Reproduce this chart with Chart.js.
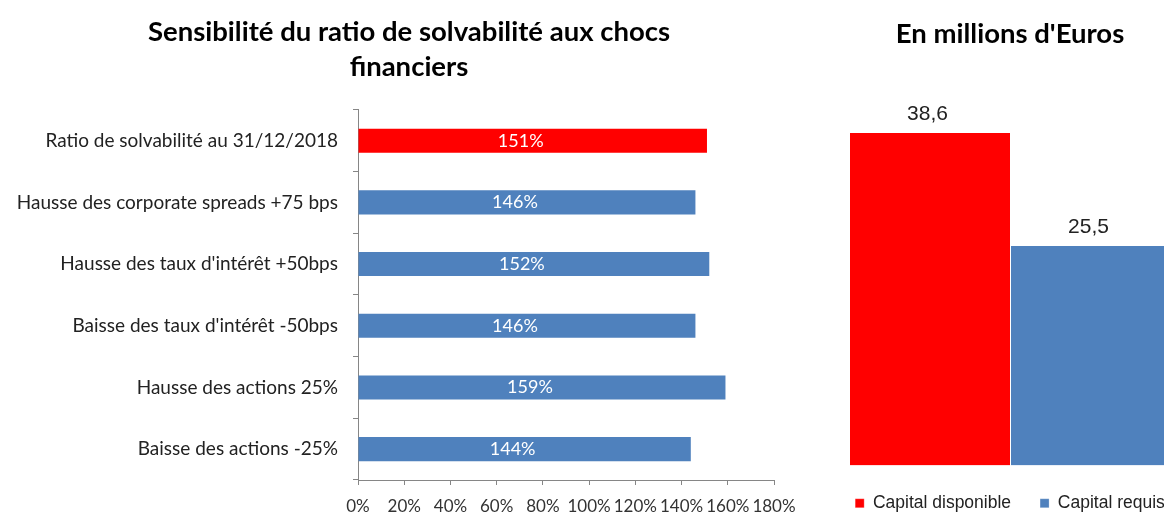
<!DOCTYPE html>
<html>
<head>
<meta charset="utf-8">
<script src="https://cdn.jsdelivr.net/npm/chart.js@4"></script>
<style>
  html, body { margin: 0; padding: 0; background: #fff; overflow: hidden; }
  body { width: 1164px; height: 514px; position: relative; }
  #leftBox { position: absolute; left: 0; top: 0; width: 818px; height: 514px; }
  #rightBox { position: absolute; left: 800px; top: 0; width: 430px; height: 522px; }
</style>
</head>
<body>
<div id="leftBox"><canvas id="ratioChart"></canvas></div>
<div id="rightBox"><canvas id="capitalChart"></canvas></div>
<script>
// données du graphique de gauche
const scenarios = [
    "Ratio de solvabilité au 31/12/2018",
    "Hausse des corporate spreads +75 bps",
    "Hausse des taux d'intérêt +50bps",
    "Baisse des taux d'intérêt -50bps",
    "Hausse des actions 25%",
    "Baisse des actions -25%"
];
const ratios = [151, 146, 152, 146, 159, 144];
const ratioColors = ["#FF0000", "#4F81BD", "#4F81BD", "#4F81BD", "#4F81BD", "#4F81BD"];

// données du graphique de droite
const capitalLabels = ["Capital disponible", "Capital requis"];
const capitalValues = [38.6, 25.5];
const capitalColors = ["#FF0000", "#4F81BD"];

const FONT = "Lato, 'Open Sans', sans-serif";
const ARIAL = 'Arial, "Liberation Sans", sans-serif';

// labels dans les barres (gauche)
const insideLabels = {
    id: 'insideLabels',
    afterDatasetsDraw(chart) {
        const ctx = chart.ctx;
        const meta = chart.getDatasetMeta(0);
        ctx.save();
        ctx.fillStyle = '#fff';
        ctx.font = '18px ' + FONT;
        ctx.textAlign = 'center';
        ctx.textBaseline = 'middle';
        meta.data.forEach((bar, i) => {
            const x = (bar.base + bar.x) / 2 - 12;
            ctx.fillText(ratios[i] + '%', x, bar.y);
        });
        ctx.restore();
    }
};

// valeurs au-dessus des barres (droite)
const topLabels = {
    id: 'topLabels',
    afterDatasetsDraw(chart) {
        const ctx = chart.ctx;
        ctx.save();
        ctx.fillStyle = '#222';
        ctx.font = '21px ' + ARIAL;
        ctx.textAlign = 'center';
        ctx.textBaseline = 'alphabetic';
        chart.data.datasets.forEach((ds, di) => {
            const bar = chart.getDatasetMeta(di).data[0];
            ctx.fillText(ds.data[0].toFixed(1).replace('.', ','), bar.x - 2, bar.y - 13);
        });
        ctx.restore();
    }
};

new Chart(document.getElementById('ratioChart'), {
    type: 'bar',
    data: {
        labels: scenarios,
        datasets: [{
            data: ratios,
            backgroundColor: ratioColors,
            borderWidth: 0,
            categoryPercentage: 1,
            barPercentage: 0.39
        }]
    },
    options: {
        indexAxis: 'y',
        responsive: true,
        maintainAspectRatio: false,
        animation: false,
        plugins: {
            legend: { display: false },
            tooltip: { enabled: false },
            title: {
                display: true,
                text: ['Sensibilité du ratio de solvabilité aux chocs', 'financiers'],
                color: '#000',
                font: { family: FONT, size: 27.5, weight: 'bold', lineHeight: 1.27 },
                padding: { top: 15, bottom: 25 }
            }
        },
        scales: {
            x: {
                min: 0,
                max: 180,
                afterFit: s => { s.height = 34; s.paddingRight = 44; },
                ticks: {
                    stepSize: 20,
                    color: '#333',
                    font: { family: FONT, size: 17 },
                    padding: 11,
                    maxRotation: 0,
                    autoSkip: false,
                    callback: v => v + '%'
                },
                grid: { drawOnChartArea: false, drawTicks: true, tickLength: 5, color: '#868686' },
                border: { color: '#868686' }
            },
            y: {
                afterFit: s => { s.width = 358; },
                ticks: {
                    color: '#222',
                    font: { family: FONT, size: 19 },
                    padding: 15
                },
                grid: { drawOnChartArea: false, drawTicks: true, tickLength: 5, color: '#868686' },
                border: { color: '#868686' }
            }
        }
    },
    plugins: [insideLabels]
});

new Chart(document.getElementById('capitalChart'), {
    type: 'bar',
    data: {
        labels: [''],
        datasets: capitalLabels.map((lab, i) => ({
            label: lab,
            data: [capitalValues[i]],
            backgroundColor: capitalColors[i],
            borderColor: '#fff',
            borderWidth: { left: 1 },
            categoryPercentage: 322 / 420,
            barPercentage: 1
        }))
    },
    options: {
        responsive: true,
        maintainAspectRatio: false,
        animation: false,
        layout: { padding: { left: 0, right: 10, bottom: 0 } },
        plugins: {
            tooltip: { enabled: false },
            title: {
                display: true,
                text: "En millions d'Euros",
                color: '#000',
                font: { family: FONT, size: 27.5, weight: 'bold' },
                padding: { top: 18, bottom: 27 }
            },
            legend: {
                position: 'bottom',
                labels: {
                    color: '#222',
                    font: { family: ARIAL, size: 17.5 },
                    boxWidth: 9,
                    boxHeight: 9,
                    padding: 29
                }
            }
        },
        scales: {
            x: { display: false },
            y: { display: false, min: 0, max: 45 }
        }
    },
    plugins: [topLabels]
});
</script>
</body>
</html>
